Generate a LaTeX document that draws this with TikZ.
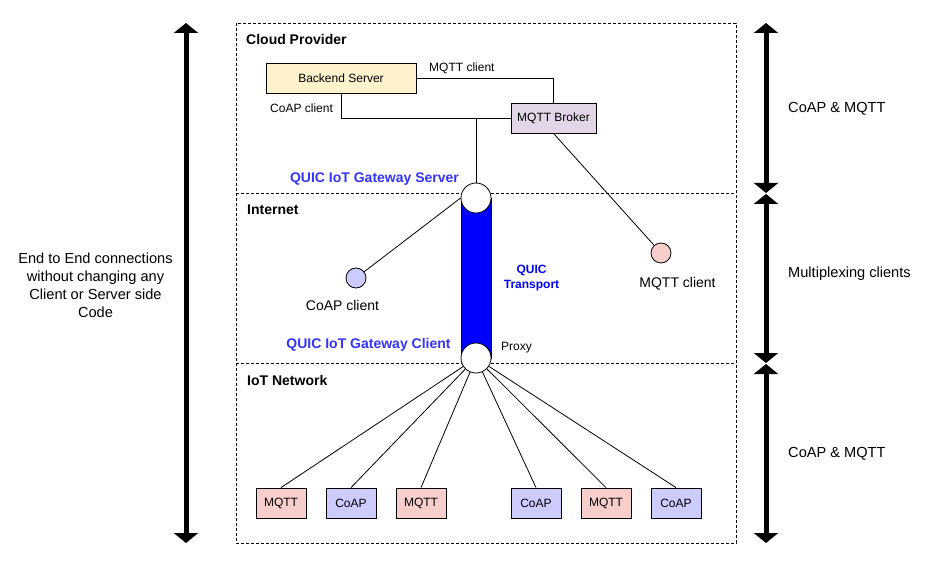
\documentclass[tikz,border=0pt]{standalone}
\usepackage{fontspec}
\setmainfont{Liberation Sans}
\usetikzlibrary{arrows.meta}
\definecolor{bkfill}{HTML}{FFF2CC}
\definecolor{brfill}{HTML}{E1D5E7}
\definecolor{mqfill}{HTML}{F8CECC}
\definecolor{cofill}{HTML}{CCCCFF}
\definecolor{gwblue}{HTML}{3333FF}
\tikzset{
  box/.style={draw, line width=0.8pt, minimum width=50pt, minimum height=30pt, inner sep=0pt, font=\fontsize{12}{14}\selectfont},
  endpt/.style={draw, circle, line width=0.8pt, minimum size=20pt, inner sep=0pt},
  gw/.style={draw, circle, fill=white, line width=0.8pt, minimum size=30pt, inner sep=0pt},
  conn/.style={line width=0.8pt},
  small/.style={font=\fontsize{12}{14}\selectfont, inner sep=0pt},
  mid/.style={font=\fontsize{14}{17}\selectfont, inner sep=0pt},
  side/.style={font=\fontsize{14.6}{18}\selectfont, inner sep=0pt},
  title/.style={font=\bfseries\fontsize{14}{17}\selectfont, inner sep=0pt, anchor=west},
  gwlabel/.style={font=\bfseries\fontsize{14}{17}\selectfont, inner sep=0pt, text=gwblue},
  bigarrow/.style={line width=5pt, {Triangle[width=24pt,length=10pt]}-{Triangle[width=24pt,length=10pt]}},
  zone/.style={dashed, line width=0.7pt, dash pattern=on 3pt off 2pt}
}
\begin{document}
\begin{tikzpicture}[x=1pt,y=-1pt]
\useasboundingbox (0,0) rectangle (934,564);
% zones
\draw[zone] (236,23) rectangle (736,543);
\draw[zone] (236,193) -- (736,193);
\draw[zone] (236,363) -- (736,363);
% titles
\node[title] (tcloud) at (246,39) {Cloud Provider};
\node[title] (tnet) at (247,210) {Internet};
\node[title] (tiot) at (247,380) {IoT Network};
% cloud
\node[box, fill=bkfill, minimum width=150pt] (backend) at (341,78) {Backend Server};
\node[box, fill=brfill, minimum width=85pt] (broker) at (553.5,118) {MQTT Broker};
\draw[conn] (backend.east) -| (broker.north);
\draw[conn] (backend.south) |- (broker.west);
\node[small, anchor=west] (lmq) at (429,68) {MQTT client};
\node[small, anchor=west] (lco) at (270,108) {CoAP client};
\coordinate (junc) at (476,118);
% gateway
\node[draw, fill=blue, line width=0.8pt, minimum width=30pt, minimum height=160pt, inner sep=0pt] (bar) at (476,278) {};
\node[gw] (gws) at (476,198) {};
\node[gw] (gwc) at (476,358) {};
\draw[conn] (junc) -- (gws.north);
\node[gwlabel] (lgws) at (374.5,179) {QUIC IoT Gateway Server};
\node[gwlabel] (lgwc) at (368.5,345) {QUIC IoT Gateway Client};
\node[font=\bfseries\fontsize{12}{15}\selectfont, text=blue, align=center, inner sep=0pt] (ltr) at (531.5,278.5) {QUIC\\Transport};
\node[small, anchor=west] (lproxy) at (501,348) {Proxy};
% internet clients
\node[endpt, fill=cofill] (coapc) at (356,278) {};
\node[endpt, fill=mqfill] (mqttc) at (661,253) {};
\draw[conn] (gws.west) -- (coapc);
\draw[conn] (broker.south) -- (mqttc);
\node[mid] (lcoapc) at (342.5,305) {CoAP client};
\node[mid] (lmqttc) at (677.5,284) {MQTT client};
% iot devices
\node[box, fill=mqfill] (d1) at (281,503) {MQTT};
\node[box, fill=cofill] (d2) at (351,503) {CoAP};
\node[box, fill=mqfill] (d3) at (421,503) {MQTT};
\node[box, fill=cofill] (d4) at (536,503) {CoAP};
\node[box, fill=mqfill] (d5) at (606,503) {MQTT};
\node[box, fill=cofill] (d6) at (676,503) {CoAP};
\foreach \d in {d1,d2,d3,d4,d5,d6}{\draw[conn] (\d.north) -- (gwc);}
% side arrows
\coordinate (la) at (186,23);
\coordinate (lb) at (186,543);
\draw[bigarrow] (la) -- (lb);
\coordinate (r1) at (766,23);
\coordinate (r2) at (766,193);
\coordinate (r3) at (766,194);
\coordinate (r4) at (766,363);
\coordinate (r5) at (766,364);
\coordinate (r6) at (766,543);
\draw[bigarrow] (r1) -- (r2);
\draw[bigarrow] (r3) -- (r4);
\draw[bigarrow] (r5) -- (r6);
\node[side, anchor=west] (s1) at (788,109) {CoAP \& MQTT};
\node[side, anchor=west] (s2) at (788,274) {Multiplexing clients};
\node[side, anchor=west] (s3) at (788,454) {CoAP \& MQTT};
\node[side, align=center, font=\fontsize{14.6}{18}\selectfont] (left) at (95.5,285.5) {End to End connections\\without changing any\\Client or Server side\\Code};
\end{tikzpicture}
\end{document}
